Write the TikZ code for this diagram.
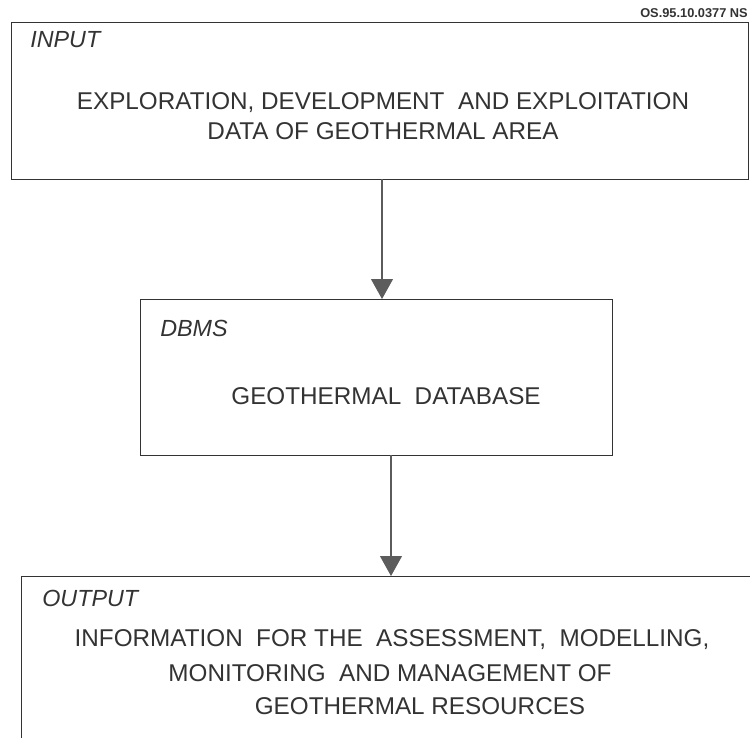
\documentclass[tikz,border=0pt]{standalone}
\usepackage{fontspec}
\setmainfont{Liberation Sans}
\usetikzlibrary{arrows.meta}
\definecolor{ink}{gray}{0.2}
\begin{document}
\begin{tikzpicture}[x=0.75pt,y=-0.75pt,
  frame/.style={draw=ink,line width=1.1pt,inner sep=0pt,anchor=north west},
  body/.style={text=ink,inner sep=0pt,font=\fontsize{18.2}{22}\selectfont},
  tag/.style={text=ink,inner sep=0pt,anchor=west,font=\fontsize{17.5}{21}\selectfont\itshape},
  flow/.style={draw=ink!80,line width=0.8pt,-{Triangle[width=16.5pt,length=15pt]}},
  ref/.style={text=ink,inner sep=0pt,anchor=base east,font=\fontsize{9.6}{11}\selectfont\bfseries}]
\useasboundingbox (0,0) rectangle (750,738);
\clip (0,0) rectangle (750,738);

% input block
\node[frame,minimum width=737*0.75pt,minimum height=157*0.75pt] (inbox) at (11,22) {};
\node[tag] (intag) at (30,40) {INPUT};
\node[body] (in1) at (383,103) {EXPLORATION, DEVELOPMENT\ \ AND EXPLOITATION};
\node[body] (in2) at (383,131) {DATA OF GEOTHERMAL AREA};
\node[ref] (refno) at (748,18) {OS.95.10.0377 NS};

% database block
\node[frame,minimum width=472*0.75pt,minimum height=156*0.75pt] (dbbox) at (140,299) {};
\node[tag] (dbtag) at (160,328) {DBMS};
\node[body] (db1) at (386,396) {GEOTHERMAL\ \ DATABASE};

% output block (runs past the right and lower edges)
\node[frame,minimum width=760*0.75pt,minimum height=170*0.75pt] (outbox) at (21,576) {};
\node[tag] (outtag) at (42,598) {OUTPUT};
\node[body] (out1) at (392,640) {INFORMATION\ \ FOR THE\ \ ASSESSMENT,\ \ MODELLING,};
\node[body] (out2) at (390,673) {MONITORING\ \ AND MANAGEMENT OF};
\node[body] (out3) at (420,706) {GEOTHERMAL RESOURCES};

% connectors
\coordinate (a1) at (382,179);
\coordinate (b1) at (382,299);
\coordinate (a2) at (391,455);
\coordinate (b2) at (391,576);
\draw[flow] (a1) -- (b1);
\draw[flow] (a2) -- (b2);
\end{tikzpicture}
\end{document}
